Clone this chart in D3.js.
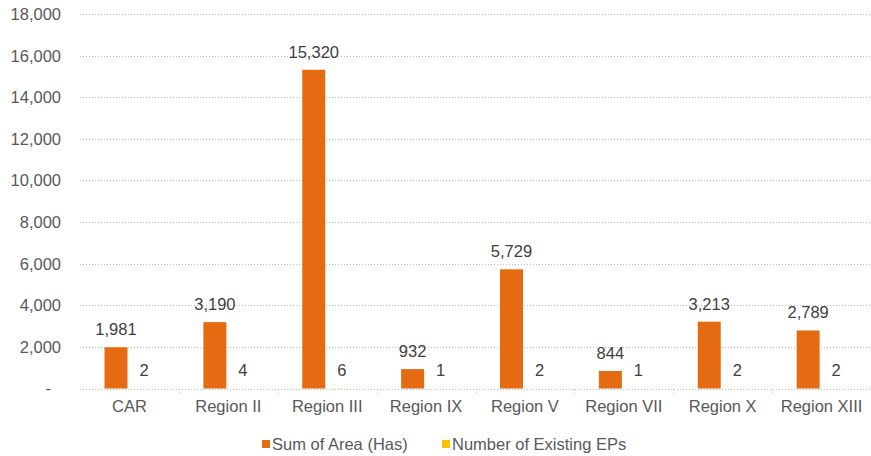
<!DOCTYPE html>
<html>
<head>
<meta charset="utf-8">
<script src="https://cdn.jsdelivr.net/npm/d3@7/dist/d3.min.js"></script>
<style>
  html, body { margin: 0; padding: 0; background: #ffffff; }
  svg { display: block; font-family: "Liberation Sans", Arial, sans-serif; }
</style>
</head>
<body>
<svg id="chart" width="871" height="456"></svg>
<script>
// Regions and their protected-area totals
const categories = ["CAR", "Region II", "Region III", "Region IX", "Region V", "Region VII", "Region X", "Region XIII"];
const areaHas = [1981, 3190, 15320, 932, 5729, 844, 3213, 2789];
const existingEPs = [2, 4, 6, 1, 2, 1, 2, 2];
const yTicks = [0, 2000, 4000, 6000, 8000, 10000, 12000, 14000, 16000, 18000];
const seriesNames = ["Sum of Area (Has)", "Number of Existing EPs"];
const seriesColors = ["#E56B12", "#FFC000"];

const svg = d3.select("#chart");
const textColor = "#595959";
const gridColor = "#BDBDBD";

const plot = { left: 80, right: 871, top: 14, bottom: 388.5 };

const x = d3.scaleBand().domain(categories).range([plot.left, plot.right]).padding(0);
const xInner = d3.scaleBand().domain([0, 1]).range([24.5, 70.5]).padding(0);
const y = d3.scaleLinear().domain([0, 18000]).range([plot.bottom, plot.top]);

const fmt = d3.format(",");
const tickLabel = v => v === 0 ? "-" : fmt(v);

// dotted horizontal gridlines
svg.append("g")
  .selectAll("line")
  .data(yTicks)
  .join("line")
  .attr("x1", plot.left)
  .attr("x2", plot.right)
  .attr("y1", d => Math.round(y(d)) + 0.5)
  .attr("y2", d => Math.round(y(d)) + 0.5)
  .attr("stroke", gridColor)
  .attr("stroke-width", 1)
  .attr("stroke-dasharray", "1,2");

// small dotted ticks between categories
const boundaries = categories.map(c => x(c)).slice(1);
svg.append("g")
  .selectAll("line")
  .data(boundaries)
  .join("line")
  .attr("x1", d => Math.round(d) + 0.5)
  .attr("x2", d => Math.round(d) + 0.5)
  .attr("y1", Math.round(plot.bottom) + 0.5)
  .attr("y2", Math.round(plot.bottom) + 5)
  .attr("stroke", gridColor)
  .attr("stroke-dasharray", "1,2");

// y axis labels
svg.append("g")
  .selectAll("text")
  .data(yTicks)
  .join("text")
  .attr("x", 61)
  .attr("dx", d => d === 0 ? -10 : 0)
  .attr("y", d => y(d))
  .attr("dy", "0.36em")
  .attr("text-anchor", "end")
  .attr("fill", textColor)
  .attr("font-size", "16.5px")
  .text(tickLabel);

// grouped bars
const rows = categories.map((c, i) => ({ cat: c, values: [areaHas[i], existingEPs[i]] }));

const groups = svg.append("g")
  .selectAll("g")
  .data(rows)
  .join("g")
  .attr("transform", d => `translate(${x(d.cat)},0)`);

groups.selectAll("rect")
  .data(d => d.values.map((v, k) => ({ v, k })))
  .join("rect")
  .attr("x", d => xInner(d.k))
  .attr("width", xInner.bandwidth())
  .attr("y", d => y(d.v))
  .attr("height", d => y(0) - y(d.v))
  .attr("fill", d => seriesColors[d.k]);

// value labels
groups.selectAll("text")
  .data(d => d.values.map((v, k) => ({ v, k })))
  .join("text")
  .attr("x", d => xInner(d.k) + xInner.bandwidth() / 2 + (d.k === 1 ? 5 : 0))
  .attr("y", d => y(d.v) - 12)
  .attr("text-anchor", "middle")
  .attr("fill", "#404040")
  .attr("font-size", "16.5px")
  .text(d => fmt(d.v));

// category labels
svg.append("g")
  .selectAll("text")
  .data(categories)
  .join("text")
  .attr("x", d => x(d) + x.bandwidth() / 2)
  .attr("y", 412)
  .attr("text-anchor", "middle")
  .attr("fill", textColor)
  .attr("font-size", "16.5px")
  .text(d => d);

// legend
const legendX = [262, 442];
const legend = svg.append("g")
  .selectAll("g")
  .data(seriesNames)
  .join("g")
  .attr("transform", (d, i) => `translate(${legendX[i]},440)`);

legend.append("rect")
  .attr("width", 8)
  .attr("height", 8)
  .attr("fill", (d, i) => seriesColors[i]);

legend.append("text")
  .attr("x", 10)
  .attr("y", 9.5)
  .attr("fill", textColor)
  .attr("font-size", "16.5px")
  .text(d => d);
</script>
</body>
</html>
